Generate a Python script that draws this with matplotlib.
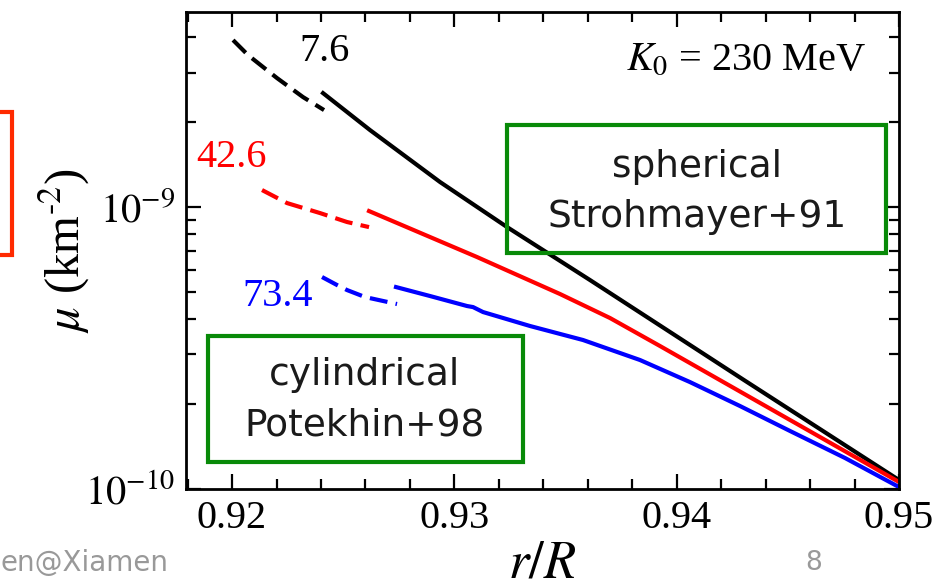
import numpy as np
import matplotlib
matplotlib.use("Agg")
import matplotlib.pyplot as plt
from matplotlib.patches import Rectangle

plt.rcParams['font.family'] = 'serif'
plt.rcParams['font.serif'] = ['Liberation Serif', 'DejaVu Serif']
plt.rcParams['mathtext.fontset'] = 'stix'

# mu(r/R) for three pasta phases, dashed = extrapolated part
r_black_dash = [0.920045, 0.920720, 0.922024, 0.923193, 0.924138]
mu_black_dash = [3.911e-9, 3.459e-9, 2.867e-9, 2.455e-9, 2.208e-9]
r_black = [0.924093, 0.926207, 0.929355, 0.932369, 0.936102, 0.943029, 0.95]
mu_black = [2.536e-9, 1.875e-9, 1.227e-9, 8.494e-10, 5.509e-10, 2.434e-10, 1.076e-10]

r_red_dash = [0.921349, 0.922474, 0.923958, 0.925172, 0.926162]
mu_red_dash = [1.149e-9, 1.033e-9, 9.52e-10, 8.85e-10, 8.49e-10]
r_red = [0.926162, 0.931020, 0.934753, 0.937002, 0.939251, 0.95]
mu_red = [9.678e-10, 6.648e-10, 4.915e-10, 4.040e-10, 3.214e-10, 1.059e-10]

r_blue_dash = [0.924048, 0.924723, 0.925172, 0.925982, 0.927421]
mu_blue_dash = [5.647e-10, 5.289e-10, 5.077e-10, 4.795e-10, 4.529e-10]
r_blue = [0.927376, 0.928906, 0.930570, 0.930840, 0.931290, 0.933403, 0.935787,
          0.938351, 0.940600, 0.942849, 0.945098, 0.947572, 0.95]
mu_blue = [5.202e-10, 4.835e-10, 4.456e-10, 4.418e-10, 4.242e-10, 3.785e-10, 3.376e-10,
           2.867e-10, 2.394e-10, 1.969e-10, 1.606e-10, 1.288e-10, 1.016e-10]

labels = ['7.6', '42.6', '73.4']
label_r = [0.92418, 0.91996, 0.92207]
label_mu = [3.55e-9, 1.50e-9, 4.80e-10]
colors = ['black', 'red', 'blue']

fig = plt.figure(figsize=(9.53, 5.87), dpi=100)
ax = fig.add_axes([0.1952, 0.1670, 0.7481, 0.8126])

dash = (4.3, 2.0)
ax.plot(r_black_dash, mu_black_dash, color='black', lw=3, dashes=dash)
ax.plot(r_black, mu_black, color='black', lw=3)
ax.plot(r_red_dash, mu_red_dash, color='red', lw=3, dashes=dash)
ax.plot(r_red, mu_red, color='red', lw=3)
ax.plot(r_blue_dash, mu_blue_dash, color='blue', lw=3, dashes=dash)
ax.plot(r_blue, mu_blue, color='blue', lw=3)

for s, x, y, c in zip(labels, label_r, label_mu, colors):
    ax.text(x, y, s, color=c, fontsize=29, ha='center', va='center')

ax.set_yscale('log')
ax.set_xlim(0.91793, 0.95)
ax.set_ylim(1e-10, 4.92e-9)
ax.set_xticks([0.92, 0.93, 0.94, 0.95])
ax.set_xticklabels(['0.92', '0.93', '0.94', '0.95'])
ax.set_xticks(np.arange(0.918, 0.9501, 0.002), minor=True)
ax.set_yticks([1e-10, 1e-9])
ax.set_yticklabels([r'$10^{-10}$', r'$10^{-9}$'])
ax.tick_params(which='both', direction='in', top=True, right=True, width=1.6, labelsize=29)
ax.tick_params(which='major', length=11, pad=8)
ax.tick_params(which='minor', length=7)
for sp in ax.spines.values():
    sp.set_linewidth(2)

ax.set_xlabel(r'$r/R$', fontsize=38)
ax.xaxis.set_label_coords(0.5, -0.108)
ax.set_ylabel(r'$\mu$ (km$^{\text{-}2}$)', fontsize=35)
ax.yaxis.set_label_coords(-0.132, 0.5)

ax.text(0.955, 0.899, r'$K_0$ = 230 MeV', transform=ax.transAxes,
        fontsize=29, ha='right', va='center')

# annotation boxes
green = '#088a08'
ax.add_patch(Rectangle((0.450, 0.495), 0.532, 0.268, transform=ax.transAxes,
                       fill=False, ec=green, lw=3, zorder=5, clip_on=False))
ax.add_patch(Rectangle((0.031, 0.057), 0.442, 0.264, transform=ax.transAxes,
                       fill=False, ec=green, lw=3, zorder=5, clip_on=False))
box_font = dict(family='DejaVu Sans', fontsize=27, color='#1a1a1a',
                ha='center', va='center', transform=ax.transAxes)
ax.text(0.717, 0.675, 'spherical', **box_font)
ax.text(0.717, 0.570, 'Strohmayer+91', **box_font)
ax.text(0.251, 0.239, 'cylindrical', **box_font)
ax.text(0.251, 0.134, 'Potekhin+98', **box_font)

# slide decorations
fig.patches.append(Rectangle((-0.05, 0.5656), 0.0626, 0.2436, transform=fig.transFigure,
                             fill=False, ec='#ff2a00', lw=3))
fig.text(0.0, 0.0409, 'en@Xiamen', family='DejaVu Sans', fontsize=20,
         color='#999999', ha='left', va='center')
fig.text(0.854, 0.0409, '8', family='DejaVu Sans', fontsize=19,
         color='#999999', ha='center', va='center')

fig.savefig('out.png', dpi=100)
